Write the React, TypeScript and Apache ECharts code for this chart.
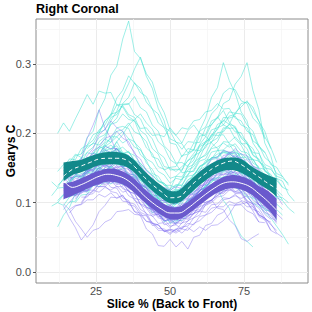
import React, { useEffect, useRef } from "react";
import * as echarts from "echarts";

const FONT = "'Liberation Sans', Arial, Helvetica, sans-serif";

// axis ticks and grid positions
const xTicks = [25, 50, 75];
const xMinorGrid = [12.5, 37.5, 62.5, 87.5];
const yTicks = [0, 0.1, 0.2, 0.3];
const yMinorGrid = [0.05, 0.15, 0.25, 0.35];

// Individual slice traces: [first slice %, values in thousandths of Geary's C, one every 2 %]
const STEP = 2;
const cyanLines: [number, number[]][] = [
  [16, [150,168,170,194,203,233,250,284,297,336,362,318,308,286,274,246,230,205,197,186,204,212,200,196,186,178,160,152]],
  [20, [130,152,158,178,188,218,232,254,272,293,310,282,265,236,218,186,184,166,178,176,196,198,218,222,233,216,208,186,178,157,152]],
  [14, [120,131,137,154,152,168,170,183,176,188,172,168,147,143,124,121,106,117,119,138,146,169,176,204,222,252,266,302,276,258,231,218,186,173,146,138]],
  [18, [110,123,132,143,147,161,163,164,152,153,137,133,115,110,97,101,102,121,132,154,161,184,195,213,222,243,248,271,282,302,262,234,186,168,137]],
  [12, [200,215,203,221,238,256,242,261,258,259,241,238,224,218,197,188,166,163,147,151,152,168,170,186,187,208,212,224,212,208,192,183,167,163,148]],
  [10, [110,121,122,134,138,142,145,158,160,173,165,178,167,165,147,143,125,123,109,111,102,111,112,128,132,148,152,165,166,176,172,170,157,153,137,135,122,121,109,107,100]],
  [14, [105,113,112,128,127,131,133,143,135,138,127,128,115,113,97,95,85,88,79,91,92,103,105,118,122,133,131,136,128,124,115,108,100,94,86,78,66,54,40]],
  [12, [65,82,93,113,116,133,140,153,158,168,167,170,157,158,142,138,122,121,109,113,108,124,125,141,146,161,163,175,176,184,172,170,155,151,136,133,120]],
  [16, [140,153,157,173,180,194,198,213,216,228,220,218,207,208,197,198,195,208,197,208,206,218,220,231,233,243,235,236,222,218,203,198,180,172]],
  [18, [125,137,143,161,167,186,192,208,210,207,187,178,157,148,132,128,117,125,125,141,147,163,170,188,193,208,207,208,195,188,169,163,145,141,126]],
  [20, [120,131,135,148,147,151,143,143,129,122,107,100,85,90,72,76,70,88,92,108,112,125,126,120,103,92,68,52,44,36]],
  [22, [150,163,162,175,178,182,170,168,155,151,135,130,118,115,108,118,119,133,137,153,157,173,175,188,187,195,185,185,172,171,155,151,135,131,112,102]],
  [14, [150,163,162,178,183,198,202,218,225,241,242,243,227,221,202,192,172,165,147,148,147,161,165,181,185,198,197,198,185,181,162,158,142,137]],
  [24, [170,188,195,213,222,243,252,273,259,253,235,228,209,203,187,185,172,176,175,188,192,208,212,225,227,243,245,238,217,203,178]],
  [16, [130,138,137,148,147,158,155,163,155,153,139,135,117,113,97,95,85,88,82,91,99,105,109,125,129,143,145,155,147,148,135,133,117,113,97,88]],
  [12, [125,133,135,148,149,163,165,178,182,195,195,203,192,188,169,161,142,138,125,125,122,135,139,158,165,183,187,201,202,213,202,201,185,178,159,153,137,135,122]],
  [26, [200,218,227,251,262,283,272,265,245,235,215,208,192,188,177,188,187,203,209,228,237,258,265,263,247,243,222,213,192]],
  [18, [100,111,112,125,127,138,137,145,135,135,122,118,102,101,89,93,88,99,99,113,117,131,135,148,147,155,145,143,127,123,107,103,89,88,75]],
  [20, [170,181,185,201,205,223,227,241,242,253,237,231,212,203,182,173,157,158,152,168,172,188,195,213,217,231,229,228,212,203,182,173,155,151,137]],
  [14, [90,101,102,118,119,133,135,151,152,163,159,161,147,143,127,121,105,103,92,101,102,118,112,128,132,148,149,161,159,163,152,151,135,131,115]],
  [22, [140,155,162,181,187,203,205,215,202,198,179,171,152,148,135,138,137,151,155,173,179,198,205,223,222,225,212,208,189,183,165,158,142,138,125]],
  [16, [145,158,163,183,190,205,212,228,230,240,227,223,204,197,178,170,152,150,145,152,160,171,183,188,205,208,219,213,210,193,185,168,162]],
  [28, [160,172,188,198,212,220,228,215,206,188,180,162,156,143,145,145,160,163,180,188,205,213,230,238,247,232,218,195,180,158]],
  [12, [100,111,115,131,132,143,145,158,157,165,162,168,152,148,132,128,112,108,95,98,97,108,112,128,132,145,147,161,159,168,157,155,139,135,117,113,97,90]],
  [10, [130,122,135,138,146,152,149,163,166,175,170,178,171,168,155,148,136,130,117,114,110,117,121,132,140,151,158,164,170,172,171,165,158,150,142,133,128,118,115,104]],
  [18, [118,129,131,146,150,163,162,175,171,174,160,154,139,133,118,116,104,111,110,124,130,143,150,162,164,173,170,172,160,156,142,139,125,121,107,103,92,85]],
  [12, [103,112,108,121,117,128,126,137,131,138,128,134,126,124,110,108,97,92,86,75,81,80,88,96,99,112,114,123,125,131,126,128,115,116,105,102,92,90,82]],
  [16, [128,142,138,147,150,149,156,150,158,151,157,145,146,132,129,113,112,100,100,94,104,108,118,122,134,135,145,143,151,145,148,136,135,125,120,108]],
  [14, [146,158,155,165,163,172,170,177,172,178,170,173,161,157,146,140,131,126,115,120,112,125,130,139,146,152,160,162,170,165,171,163,162,150,148,136,132,122,118]],
  [18, [128,135,131,140,138,147,142,148,140,141,128,127,113,110,96,95,85,90,86,97,102,113,114,126,129,138,135,141,131,134,120,118,106,103]],
  [20, [150,160,154,165,160,168,162,170,158,160,142,140,124,122,108,112,105,114,118,129,132,144,146,156,155,162,156,159,146,146,135,133,121,118,110]],
  [10, [95,100,96,108,112,118,115,126,123,130,127,132,126,128,116,115,102,98,88,84,70,75,74,85,92,100,108,112,120,118,125,121,120,110,106,97,92,86]],
  [22, [178,186,183,192,187,195,186,192,180,176,163,158,145,140,128,135,133,147,152,164,168,178,180,186,180,185,174,172,162,160,150,148,138,135,128]],
  [14, [125,128,138,135,145,140,151,146,152,146,150,140,141,126,121,110,106,96,92,94,90,103,108,117,124,130,136,136,143,138,143,131,130,122,118,110,104]],
  [16, [146,158,154,165,158,170,164,173,166,172,158,160,145,140,128,124,113,115,108,121,122,136,138,149,150,158,158,164,158,160,148,146,138]],
  [24, [130,142,135,144,137,143,135,139,125,122,110,104,92,88,80,86,84,96,100,110,116,126,128,134,130,134,124,124,115,110,102,98,90]],
  [12, [145,155,158,170,165,172,170,181,177,183,176,180,172,168,156,148,140,130,128,120,126,125,138,140,152,156,165,165,174,172,175,165,166,152,150,140]],
  [18, [140,150,146,157,152,162,155,163,152,154,139,135,122,118,106,107,100,106,108,120,124,137,140,150,151,158,150,154,142,140,128,126,115,111,108]],
];

const purpleLines: [number, number[]][] = [
  [16, [130,148,162,193,212,234,207,193,172,168,147,143,125,121,105,103,92,96,92,103,105,121,125,141,142,153,149,151,137,133,117,113,97,95]],
  [14, [95,78,64,46,57,68,87,96,108,107,111,97,95,82,81,67,68,59,62,58,65,66,78,82,97,102,115,115,123,114,115,102,98,82,78,60]],
  [18, [110,118,117,127,126,133,122,121,107,103,87,81,62,55,38,37,47,36,44,33,50,53,67,70,82,86,97,96,97,88,84,72,71]],
  [16, [120,113,115,116,125,123,124,116,114,102,101,87,85,73,70,60,60,54,62,56,64,58,65,60,67,68,74,83,97,98,100,90,87,76,72]],
  [20, [120,131,133,143,140,141,130,128,116,113,97,92,80,84,68,71,70,77,87,89,101,100,104,92,90,75,67,48,44,50,55]],
  [14, [118,125,123,133,133,145,146,155,148,151,140,137,123,118,103,97,86,85,78,84,86,97,103,118,122,135,136,147,143,145,136,133,118,113,97,92,80]],
  [18, [140,153,158,175,180,193,196,203,193,188,170,163,146,138,120,115,103,110,113,125,130,145,150,163,166,175,173,172,160,155,138,131,118]],
  [16, [100,111,113,125,128,138,138,145,138,138,126,121,106,101,86,83,73,78,73,83,86,98,103,118,120,131,130,136,128,128,116,111,96,91,78,74]],
  [20, [135,145,148,161,163,171,163,163,150,145,128,121,106,103,93,95,90,98,98,111,116,131,136,151,153,163,158,158,146,141,126,121,106,98]],
  [16, [85,95,98,111,113,123,123,131,123,123,110,105,90,85,70,68,58,61,60,71,73,85,88,101,103,113,113,121,113,113,100,95,80,75,60,55]],
  [14, [130,138,130,141,143,153,153,163,160,161,150,148,133,125,108,103,90,88,80,88,88,101,106,121,126,141,143,153,148,155,148,148,136,131,116,100]],
  [22, [120,131,133,143,143,145,136,133,120,125,100,105,93,92,86,93,93,105,108,123,130,148,153,168,170,178,170,168,153,148,133,122,110,97]],
  [18, [105,115,118,131,136,151,153,161,153,151,136,128,110,103,88,85,76,79,78,88,90,103,106,118,120,131,128,131,120,118,103,98,83,76]],
  [20, [150,168,178,198,206,218,208,203,183,173,153,143,123,118,103,103,100,111,113,128,133,148,150,161,158,161,150,148,133,128,113]],
  [16, [110,118,116,128,130,141,140,148,143,143,130,125,110,105,90,88,78,81,78,88,90,103,98,113,118,131,133,143,138,145,138,130,121,106,98,84]],
  [16, [90,73,62,50,60,63,72,76,87,88,90,83,82,73,72,63,62,56,62,63,74,78,88,86,97,98,107,106,112,103,100,88,72]],
  [24, [140,150,153,165,163,165,156,153,138,131,116,113,103,105,100,108,108,121,126,141,146,161,163,173,166,165,153,148,133,128,108]],
  [18, [125,130,130,141,140,148,140,141,130,128,113,108,93,91,80,81,74,81,80,88,93,103,108,121,123,131,126,128,116,111,98,92,78,70,56,50]],
  [14, [140,136,137,138,147,148,158,156,163,153,151,138,133,116,111,96,93,83,84,82,93,96,111,116,131,133,143,140,142,133,130,118,112,98]],
  [20, [100,113,116,128,128,135,128,128,116,113,98,95,83,83,76,83,83,95,100,115,123,141,148,163,163,171,163,163,148,143,126,118,100]],
  [16, [120,131,133,145,146,155,153,155,146,143,130,125,110,103,88,85,74,75,68,77,78,91,94,108,110,121,120,125,116,115,103,98,83,76]],
  [18, [115,123,126,138,138,148,146,153,146,143,130,125,110,105,93,93,86,93,93,103,106,118,120,133,133,143,140,145,133,131,118,115,100,98,86]],
  [14, [110,115,116,125,126,138,138,141,133,133,120,118,103,98,83,81,70,71,64,71,70,81,84,98,103,118,120,131,126,135,128,128,116,111,96,85,72]],
  [22, [155,168,170,181,178,178,166,161,146,138,120,115,103,103,96,101,103,115,120,135,140,153,152,161,153,153,140,135,120,115,100,95]],
  [14, [125,120,126,130,138,141,146,143,146,140,136,128,121,110,103,93,90,85,86,84,90,93,100,108,113,121,126,130,133,131,128,121,116,106,100,90,84]],
  [18, [108,116,122,128,136,140,146,146,142,138,128,120,108,100,90,83,80,78,82,86,94,100,108,116,124,128,133,132,128,120,112,102,93,85]],
  [14, [135,128,135,133,142,141,150,146,153,147,148,138,136,121,118,107,104,95,95,92,98,99,109,113,122,125,134,134,141,137,140,133,132,120,116,105,98]],
  [16, [112,110,118,117,127,126,132,128,133,125,126,115,113,101,97,85,81,72,77,73,82,84,94,98,104,110,117,118,122,116,119,108,108,94,90]],
  [18, [140,148,146,156,154,162,158,164,155,156,144,142,128,126,114,112,104,106,103,112,112,124,126,138,140,148,146,152,146,150,140,138,125,120,110]],
  [14, [128,118,126,124,134,132,142,138,144,136,140,128,126,112,110,97,96,86,88,82,90,88,97,102,110,113,122,122,130,126,132,124,125,112,108,96]],
  [20, [108,108,118,115,122,118,124,115,118,106,104,93,90,78,76,66,68,62,70,68,80,82,92,94,104,106,110,106,110,98,98,86,82,70]],
  [16, [148,146,156,158,164,163,170,166,170,162,160,148,145,132,128,118,116,110,115,113,120,124,132,138,142,148,153,158,160,154,156,148,142,132]],
  [18, [120,118,128,126,133,132,138,132,136,128,126,116,112,100,98,87,84,78,82,80,88,90,98,104,110,116,120,126,124,126,120,118,110,103,96]],
  [14, [142,132,140,138,148,146,156,152,158,150,153,142,140,126,124,111,110,100,102,98,106,106,116,120,128,132,140,140,146,142,145,138,136,126]],
  [22, [118,118,128,126,131,126,128,120,118,106,100,90,84,74,76,70,78,76,84,88,96,100,108,110,118,116,120,112,114,104,100,92,84,76]],
  [16, [128,124,134,132,140,140,147,143,147,140,140,128,124,111,108,96,94,86,92,88,96,98,108,112,120,124,130,132,136,131,134,126,124,112,108,96]],
  [18, [155,163,160,171,168,176,172,178,168,168,156,150,138,134,123,122,118,123,120,130,132,144,146,156,158,165,163,168,160,162,152,146,138,128]],
  [14, [98,90,96,97,104,104,112,108,114,106,110,100,98,86,82,70,68,58,60,56,62,60,70,74,82,86,94,94,102,98,102,94,94,82,78,68,60]],
];

// Group summaries (thousandths): x positions, ribbon bounds and mean
const ribbonX = [14,17,20,23,26,29,32,35,38,41,44,47,50,53,56,59,62,65,68,71,74,77,80,83,86];
const tealLo = [131,140,144,149,154,155,155,152,143,129,117,107,99,100,110,122,132,141,146,147,143,136,127,119,109];
const tealHi = [158,160,162,167,171,173,173,170,161,147,135,125,117,118,129,141,151,159,164,165,163,154,146,140,135];
const tealMean = [138,148,153,158,163,164,164,162,152,138,126,116,107,108,120,132,142,151,157,160,155,146,137,128,120];
const purpleLo = [105,110,116,122,127,130,129,124,114,102,91,82,76,76,83,93,103,112,118,121,119,113,103,91,75];
const purpleHi = [128,130,135,141,146,149,148,143,134,121,110,101,94,94,101,111,121,130,137,140,138,133,124,117,106];
const purpleMean = [132,122,126,132,138,141,139,134,124,111,100,91,85,85,92,102,112,121,128,130,128,123,113,102,89];

const TEAL = "#12898A";
const PURPLE = "#6A5ACD";
const CYAN_LINE = "rgba(64,224,208,0.6)";
const PURPLE_LINE = "rgba(123,104,238,0.5)";

const k = (v: number) => v / 1000;

function traceSeries(lines: [number, number[]][], color: string) {
  return lines.map(([start, vals]) => ({
    type: "line",
    silent: true,
    symbol: "none",
    showSymbol: false,
    lineStyle: { color, width: 0.85 },
    data: vals.map((v, i) => [start + STEP * i, k(v)]),
    z: 2,
  }));
}

// Catmull-Rom style smooth segments through screen points (rendering only)
function curveThrough(pts: number[][], first: boolean): string {
  let d = first ? `M${pts[0][0]},${pts[0][1]}` : `L${pts[0][0]},${pts[0][1]}`;
  const n = pts.length;
  for (let i = 0; i < n - 1; i++) {
    const p0 = pts[Math.max(0, i - 1)];
    const p1 = pts[i];
    const p2 = pts[i + 1];
    const p3 = pts[Math.min(n - 1, i + 2)];
    const c1x = p1[0] + (p2[0] - p0[0]) / 6;
    const c1y = p1[1] + (p2[1] - p0[1]) / 6;
    const c2x = p2[0] - (p3[0] - p1[0]) / 6;
    const c2y = p2[1] - (p3[1] - p1[1]) / 6;
    d += `C${c1x},${c1y},${c2x},${c2y},${p2[0]},${p2[1]}`;
  }
  return d;
}

function ribbonSeries(lo: number[], hi: number[], color: string) {
  return {
    type: "custom",
    silent: true,
    z: 3,
    data: [[ribbonX[0], k(lo[0])]],
    renderItem: (_params: any, api: any) => {
      const upper = ribbonX.map((x, i) => api.coord([x, k(hi[i])]));
      const lower = ribbonX.map((x, i) => api.coord([x, k(lo[i])])).reverse();
      const d = curveThrough(upper, true) + curveThrough(lower, false) + "Z";
      return {
        type: "path",
        shape: { pathData: d },
        style: { fill: color, stroke: "none" },
      };
    },
  };
}

function meanSeries(vals: number[], dashed: boolean) {
  return {
    type: "line",
    silent: true,
    symbol: "none",
    smooth: 0.4,
    lineStyle: { color: "#ffffff", width: 1, type: dashed ? [4, 3] : "solid" },
    data: ribbonX.map((x, i) => [x, k(vals[i])]),
    z: 4,
  };
}

export default function App() {
  const ref = useRef<HTMLDivElement>(null);
  useEffect(() => {
    if (!ref.current) return;
    const chart = echarts.init(ref.current, undefined, { renderer: "svg" });
    const gridLines = [
      ...xTicks.map((v) => ({ xAxis: v })),
      ...yTicks.map((v) => ({ yAxis: v })),
      ...xMinorGrid.map((v) => ({ xAxis: v, lineStyle: { color: "#F4F4F4", width: 0.7 } })),
      ...yMinorGrid.map((v) => ({ yAxis: v, lineStyle: { color: "#F4F4F4", width: 0.7 } })),
    ];
    chart.setOption({
      animation: false,
      backgroundColor: "#ffffff",
      title: {
        text: "Right Coronal",
        left: 36,
        top: 2,
        padding: 0,
        textStyle: { fontSize: 12.5, fontWeight: "bold", color: "#000", fontFamily: FONT },
      },
      grid: {
        left: 36,
        right: 4,
        top: 19,
        bottom: 29,
        show: true,
        borderColor: "#8c8c8c",
        borderWidth: 1,
        backgroundColor: "transparent",
        containLabel: false,
        outerBoundsMode: "none",
      },
      xAxis: {
        type: "value",
        min: 4.7,
        max: 96.6,
        name: "Slice % (Back to Front)",
        nameLocation: "middle",
        nameGap: 15,
        nameMoveOverlap: false,
        nameTextStyle: { fontSize: 12, fontWeight: "bold", color: "#000", fontFamily: FONT },
        axisLine: { show: false },
        axisTick: { show: true, customValues: xTicks, length: 3, lineStyle: { color: "#555" } },
        axisLabel: { customValues: xTicks, margin: 2, fontSize: 11, color: "#4D4D4D", fontFamily: FONT },
        splitLine: { show: false },
      },
      yAxis: {
        type: "value",
        min: -0.016,
        max: 0.365,
        name: "Gearys C",
        nameLocation: "middle",
        nameGap: 19,
        nameMoveOverlap: false,
        nameTextStyle: { fontSize: 12, fontWeight: "bold", color: "#000", fontFamily: FONT },
        axisLine: { show: false },
        axisTick: { show: true, customValues: yTicks, length: 3, lineStyle: { color: "#555" } },
        axisLabel: {
          customValues: yTicks,
          margin: 5,
          fontSize: 11,
          color: "#4D4D4D",
          fontFamily: FONT,
          formatter: (v: number) => v.toFixed(1),
        },
        splitLine: { show: false },
      },
      series: [
        {
          type: "line",
          silent: true,
          symbol: "none",
          lineStyle: { width: 0, opacity: 0 },
          data: [[50, 0.1]],
          z: 1,
          markLine: {
            silent: true,
            symbol: ["none", "none"],
            label: { show: false },
            lineStyle: { color: "#EBEBEB", width: 1, type: "solid" },
            data: gridLines,
            z: 1,
          },
        },
        ...traceSeries(cyanLines, CYAN_LINE),
        ...traceSeries(purpleLines, PURPLE_LINE),
        ribbonSeries(tealLo, tealHi, TEAL),
        ribbonSeries(purpleLo, purpleHi, PURPLE),
        meanSeries(tealMean, true),
        meanSeries(purpleMean, false),
      ],
    });
    return () => chart.dispose();
  }, []);
  return (
    <div
      ref={ref}
      style={{ position: "fixed", left: 0, top: 0, width: 312, height: 312 }}
    />
  );
}
